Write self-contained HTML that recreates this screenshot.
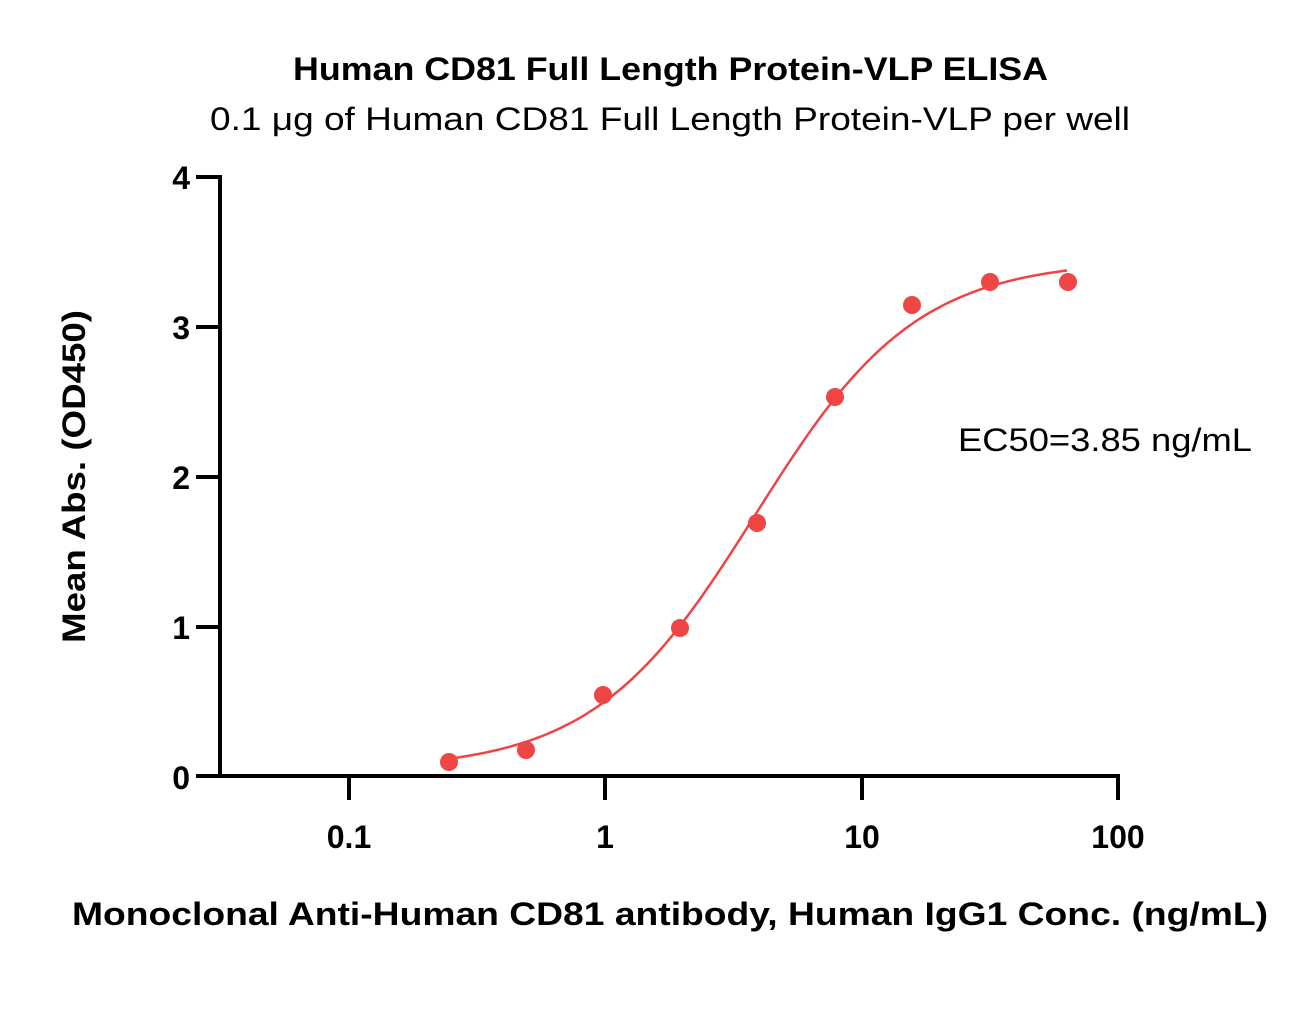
<!DOCTYPE html>
<html><head><meta charset="utf-8"><style>
html,body{margin:0;padding:0;background:#fff;}
svg{display:block;}
text{font-family:"Liberation Sans",sans-serif;fill:#000;}
</style></head><body>
<svg id="s" width="1313" height="1032" viewBox="0 0 1313 1032">
<text x="293" y="80" font-size="32" font-weight="bold" textLength="755" lengthAdjust="spacingAndGlyphs">Human CD81 Full Length Protein-VLP  ELISA</text>
<text x="210" y="130" font-size="32" textLength="920" lengthAdjust="spacingAndGlyphs">0.1 μg of Human CD81 Full Length Protein-VLP per well</text>
<g stroke="#000" stroke-width="4" fill="none">
<path d="M220 175 V778 M196 776 H1120"/>
<path d="M196 177 H220 M196 327 H220 M196 477 H220 M196 627 H220"/>
<path d="M349 776 V800 M605 776 V800 M862 776 V800 M1118 776 V800"/>
</g>
<g font-size="32" font-weight="bold" text-anchor="end">
<text x="190" y="189">4</text><text x="190" y="339">3</text><text x="190" y="489">2</text><text x="190" y="639">1</text><text x="190" y="789">0</text>
</g>
<g font-size="32" font-weight="bold" text-anchor="middle">
<text x="349" y="848">0.1</text><text x="605" y="848">1</text><text x="862" y="848">10</text><text x="1118" y="848">100</text>
</g>
<text x="72" y="925" font-size="32" font-weight="bold" textLength="1196" lengthAdjust="spacingAndGlyphs">Monoclonal Anti-Human CD81 antibody, Human IgG1 Conc. (ng/mL)</text>
<text transform="translate(85,643) rotate(-90)" font-size="32" font-weight="bold" textLength="333" lengthAdjust="spacingAndGlyphs">Mean Abs. (OD450)</text>
<text x="958" y="451" font-size="32" textLength="294" lengthAdjust="spacingAndGlyphs">EC50=3.85 ng/mL</text>
<path id="c" fill="none" stroke="#ee4444" stroke-width="2.5"/>
<g fill="#f04545">
<circle cx="449" cy="762" r="9"/><circle cx="526" cy="750" r="9"/><circle cx="603" cy="695" r="9"/>
<circle cx="680" cy="628" r="9"/><circle cx="757" cy="523" r="9"/><circle cx="835" cy="397" r="9"/>
<circle cx="912" cy="305" r="9"/><circle cx="990" cy="282" r="9"/><circle cx="1068" cy="282" r="9"/>
</g>
</svg>
<script>
var d="";for(var px=449;px<=1068;px+=3){var lx=(px-605)/256.5;var x=Math.pow(10,lx);
var y=0.04+(3.44-0.04)/(1+Math.pow(3.85/x,1.38));var py=776-150*y;d+=(d?"L":"M")+px+" "+py.toFixed(1);}
document.getElementById("c").setAttribute("d",d);
</script>
</body></html>
